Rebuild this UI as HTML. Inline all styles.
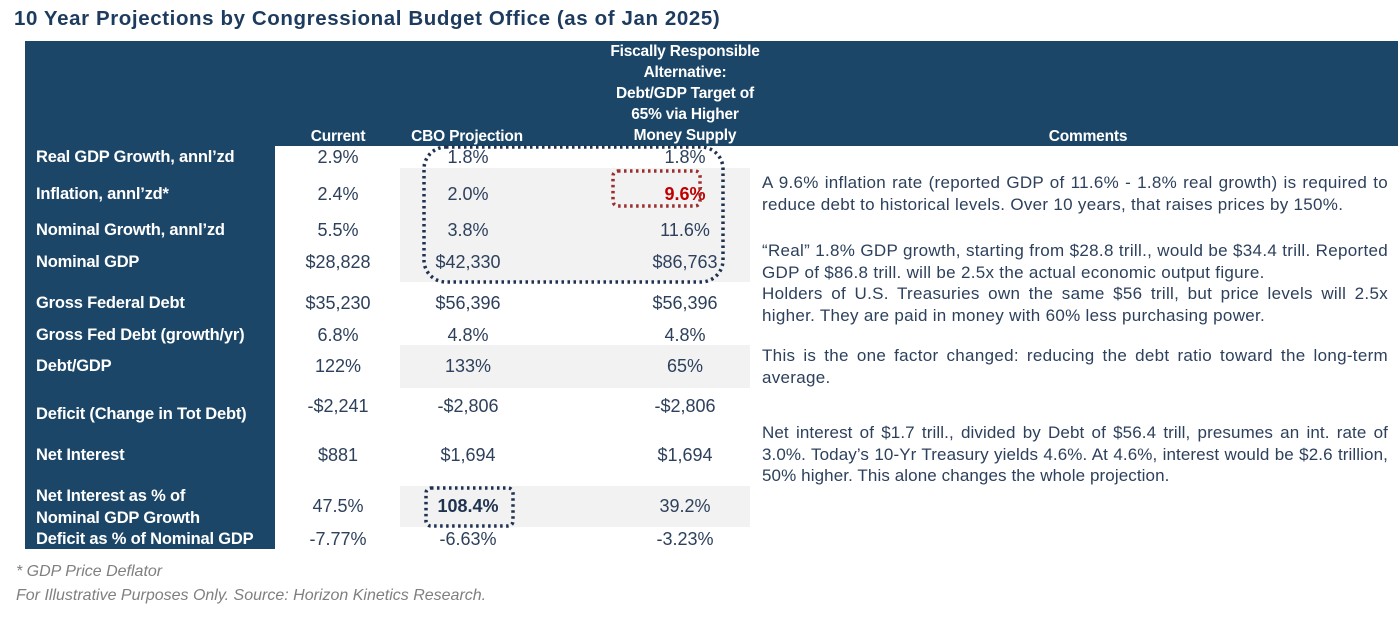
<!DOCTYPE html>
<html><head><meta charset="utf-8"><style>
*{margin:0;padding:0;box-sizing:border-box}
body{width:1400px;height:620px;background:#fff;font-family:"Liberation Sans",sans-serif;position:relative;overflow:hidden;color:#2a3f5c}
.a{position:absolute}
.title{left:14px;top:7px;font-size:20.5px;font-weight:bold;color:#1d3b5e;letter-spacing:0.6px}
.hdr{left:25px;top:41px;width:1373px;height:105px;background:#1c4668}
.lab{left:25px;top:146px;width:250px;height:403px;background:#1c4668}
.gray{background:#f2f2f2}
.h{color:#fff;font-weight:bold;font-size:15.5px;text-align:center;line-height:21px;letter-spacing:-0.2px}
.l{color:#fff;font-weight:bold;font-size:16.5px;left:36px;letter-spacing:-0.2px;line-height:22px}
.v{font-size:18px;text-align:center;width:160px;margin-left:-80px;line-height:20px;color:#2d405c}
.c{left:762px;width:626px;font-size:17px;line-height:21.5px;text-align:justify;color:#2d405c;letter-spacing:0.3px}
.foot{left:16px;font-style:italic;font-size:16px;color:#7f7f7f}
</style></head><body>
<div class="a title">10 Year Projections by Congressional Budget Office (as of Jan 2025)</div>
<div class="a hdr"></div>
<div class="a lab"></div>
<div class="a gray" style="left:400px;top:168px;width:350px;height:114px"></div>
<div class="a gray" style="left:400px;top:345px;width:350px;height:43px"></div>
<div class="a gray" style="left:400px;top:486px;width:350px;height:41px"></div>

<div class="a h" style="left:298px;top:126px;width:80px">Current</div>
<div class="a h" style="left:407px;top:126px;width:120px">CBO Projection</div>
<div class="a h" style="left:580px;top:41px;width:210px;height:105px;overflow:hidden">Fiscally Responsible Alternative:<br>Debt/GDP Target of<br>65% via Higher<br>Money Supply</div>
<div class="a h" style="left:1000px;top:126px;width:176px">Comments</div>

<div class="a l" style="top:146px">Real GDP Growth, annl’zd</div>
<div class="a l" style="top:183px">Inflation, annl’zd*</div>
<div class="a l" style="top:219px">Nominal Growth, annl’zd</div>
<div class="a l" style="top:251px">Nominal GDP</div>
<div class="a l" style="top:292px">Gross Federal Debt</div>
<div class="a l" style="top:324px">Gross Fed Debt (growth/yr)</div>
<div class="a l" style="top:355px">Debt/GDP</div>
<div class="a l" style="top:403px">Deficit (Change in Tot Debt)</div>
<div class="a l" style="top:444px">Net Interest</div>
<div class="a l" style="top:485px">Net Interest as % of<br>Nominal GDP Growth</div>
<div class="a l" style="top:528px">Deficit as % of Nominal GDP</div>

<div id="vals"></div>

<svg class="a" style="left:0;top:0" width="1400" height="620">
<rect x="424" y="147" width="299" height="135" rx="22" fill="none" stroke="#1f3350" stroke-width="3.5" stroke-dasharray="2.5 3.5"/>
<rect x="613" y="171" width="87" height="35" rx="5" fill="none" stroke="#9b2e2e" stroke-width="3.5" stroke-dasharray="2.5 3.5"/>
<rect x="426" y="488" width="87" height="38" rx="5" fill="none" stroke="#1f3350" stroke-width="3.5" stroke-dasharray="2.5 3.5"/>
</svg>

<div class="a c" style="top:172px">A 9.6% inflation rate (reported GDP of 11.6% - 1.8% real growth) is required to reduce debt to historical levels. Over 10 years, that raises prices by 150%.</div>
<div class="a c" style="top:240px">“Real” 1.8% GDP growth, starting from $28.8 trill., would be $34.4 trill. Reported GDP of $86.8 trill. will be 2.5x the actual economic output figure.<br>Holders of U.S. Treasuries own the same $56 trill, but price levels will 2.5x higher. They are paid in money with 60% less purchasing power.</div>
<div class="a c" style="top:345px">This is the one factor changed: reducing the debt ratio toward the long-term average.</div>
<div class="a c" style="top:422px;letter-spacing:0.1px">Net interest of $1.7 trill., divided by Debt of $56.4 trill, presumes an int. rate of 3.0%. Today’s 10-Yr Treasury yields 4.6%. At 4.6%, interest would be $2.6 trillion, 50% higher. This alone changes the whole projection.</div>

<div class="a foot" style="top:563px">* GDP Price Deflator</div>
<div class="a foot" style="top:587px">For Illustrative Purposes Only. Source: Horizon Kinetics Research.</div>

<script>
const rowTops = [147, 184, 220, 252, 293, 325, 356, 396, 445, 496, 529];
const current = ["2.9%","2.4%","5.5%","$28,828","$35,230","6.8%","122%","-$2,241","$881","47.5%","-7.77%"];
const cbo = ["1.8%","2.0%","3.8%","$42,330","$56,396","4.8%","133%","-$2,806","$1,694","108.4%","-6.63%"];
const alt = ["1.8%","9.6%","11.6%","$86,763","$56,396","4.8%","65%","-$2,806","$1,694","39.2%","-3.23%"];
const cols = [[current,338,'current'],[cbo,468,'cbo'],[alt,685,'alt']];
const host = document.getElementById('vals');
cols.forEach(([arr,x,nm])=>{
  arr.forEach((t,i)=>{
    const d=document.createElement('div');
    d.className='a v';
    d.style.left=x+'px';
    d.style.top=rowTops[i]+'px';
    d.textContent=t;
    if(nm==='alt'&&i===1){d.style.color='#c00000';d.style.fontWeight='bold';}
    if(nm==='cbo'&&i===9){d.style.color='#1f3350';d.style.fontWeight='bold';}
    
    
    host.appendChild(d);
  });
});
</script>
</body></html>
